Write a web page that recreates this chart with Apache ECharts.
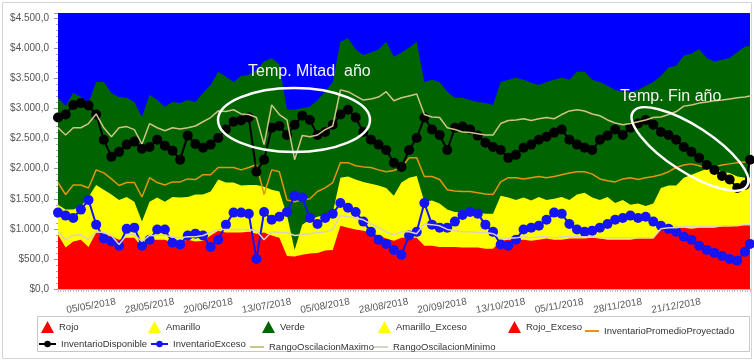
<!DOCTYPE html>
<html><head><meta charset="utf-8">
<script src="https://cdn.jsdelivr.net/npm/echarts@6/dist/echarts.min.js"></script>
<style>html,body{margin:0;padding:0;background:#fff}#c{width:754px;height:361px}</style>
</head><body><div id="c"></div>
<script>
// ---- categories (daily dates) ----
const startDate = Date.UTC(2018, 3, 22);
const dayCount = 273;
const pad = n => (n < 10 ? '0' : '') + n;
const categories = [];
for (let i = 0; i < dayCount; i++) {
  const d = new Date(startDate + i * 86400000);
  categories.push(pad(d.getUTCDate()) + '/' + pad(d.getUTCMonth() + 1) + '/' + d.getUTCFullYear());
}
const tickLabels = ['05/05/2018','28/05/2018','20/06/2018','13/07/2018','05/08/2018','28/08/2018',
  '20/09/2018','13/10/2018','05/11/2018','28/11/2018','21/12/2018'];

// day offsets (from 22/04/2018) at which values were read
const sampleDays = Array.from({length: 91}, (_, i) => i * 3).concat([272]);

// ---- series values ----
const verde = [3180,3040,3260,3190,3090,3440,3440,3260,3190,3180,
 3110,2860,3230,3140,3030,3110,3090,3140,3110,3260,
 3390,3610,3530,3440,3540,3560,3640,3780,3840,3730,
 2980,2980,3010,3030,3140,3280,3440,4110,4170,3980,
 3890,3930,3980,4110,3860,3930,4010,4110,3440,3480,
 3440,3280,3180,3180,3140,3110,3090,3060,3440,3480,
 3510,3480,3430,3390,3440,3480,3510,3480,3610,3610,
 3480,3440,3380,3310,3280,3280,3310,3380,3440,3540,
 3680,3710,3880,3910,3990,3840,3780,3810,3840,3940,
 4030,4040];
const amarillo = [1400,1320,1320,1370,1530,1730,1650,1570,1480,1530,
 1450,1120,1450,1520,1450,1530,1520,1530,1570,1570,
 1620,1820,1770,1770,1720,1730,1730,1700,1650,1620,
 1230,650,1070,1150,1200,1230,1270,1850,1870,1820,
 1780,1750,1720,1680,1550,1770,1850,1880,1450,1470,
 1420,1320,1280,1270,1280,1270,1250,1250,1550,1520,
 1480,1520,1470,1530,1480,1500,1530,1480,1570,1600,
 1520,1480,1530,1430,1480,1400,1420,1380,1420,1680,
 1720,1720,1850,1900,1950,2000,2010,1950,1930,1870,
 1850,1850];
const rojo = [900,690,790,820,700,940,920,870,820,850,
 850,700,820,820,820,770,790,820,790,800,
 890,970,940,940,940,950,920,940,890,850,
 550,540,570,590,600,640,650,1050,1020,990,
 970,940,890,840,800,850,850,850,720,720,
 700,700,700,690,690,690,670,670,800,820,
 820,820,800,820,840,820,820,840,840,840,
 850,840,820,820,820,820,840,840,840,1000,
 1020,1020,1020,1000,1020,1020,1020,1040,1040,1050,
 1070,1070];
const amarilloExceso = [];
const rojoExceso = [];
const promedio = [1770,1570,1730,1730,1680,1980,1930,1830,1720,1770,
 1770,1530,1850,1770,1730,1780,1780,1830,1820,1900,
 1900,2020,2020,2020,1980,2020,2070,1570,1980,1950,
 1480,1450,1480,1500,1620,1680,1770,2100,2100,2050,
 2030,2020,1980,1950,1970,2020,2180,2180,1870,1870,
 1820,1650,1630,1620,1620,1600,1580,1570,1780,1850,
 1850,1830,1850,1870,1850,1870,1900,1930,1950,1950,
 1910,1830,1800,1780,1830,1850,1820,1850,1870,1900,
 1950,2020,2060,2080,2050,2020,2030,2060,2080,2100,
 2110,2110];
const disponible = [2850,2900,3060,3090,3050,2900,2480,2200,2280,2400,
 2450,2330,2360,2480,2380,2300,2150,2550,2410,2350,
 2400,2510,2650,2780,2800,2850,1950,2150,2680,2710,
 2560,2730,2880,2810,2560,2610,2730,2900,2980,2850,
 2610,2480,2400,2310,2100,2030,2310,2510,2850,2650,
 2560,2310,2680,2700,2650,2550,2430,2360,2310,2180,
 2230,2350,2400,2480,2530,2600,2650,2480,2400,2350,
 2310,2480,2550,2650,2560,2680,2750,2810,2730,2610,
 2560,2480,2360,2280,2180,2060,1980,1880,1820,1680,
 1730,2150];
const exceso = [1270,1220,1180,1320,1480,1070,840,790,720,1000,
 1020,720,820,990,990,770,740,890,920,890,
 700,820,1070,1270,1270,1250,500,1280,1150,1200,
 1280,1550,1520,1180,1080,1180,1250,1430,1350,1280,
 1120,950,820,750,650,570,890,950,1430,1070,
 1020,1020,1120,1230,1280,1250,1070,950,740,720,
 820,990,1020,1050,1150,1270,1250,1080,990,950,
 970,1020,1080,1150,1180,1220,1180,1200,1120,1050,
 1000,950,870,820,720,650,600,550,500,470,
 620,750];
const rangoMax = [2680,2560,2680,2680,2750,2910,2680,2530,2680,2700,
 2650,2410,2750,2680,2630,2680,2660,2680,2710,2780,
 2850,2960,2950,2980,2910,2900,2850,2400,3060,2900,
 2810,2150,2550,2530,2560,2650,2710,3310,3280,3210,
 3140,3160,3190,3280,3130,3180,3210,3240,2900,2860,
 2850,2680,2650,2610,2600,2580,2560,2560,2750,2800,
 2810,2830,2800,2830,2850,2830,2900,2960,2980,2960,
 2910,2880,2810,2760,2730,2750,2780,2810,2850,2860,
 2900,2950,3040,3060,3090,3110,3130,3140,3160,3180,
 3190,3210];
const rangoMin = [950,820,890,900,820,950,940,890,740,900,
 900,790,890,890,890,870,850,870,870,890,
 940,990,990,990,990,990,970,820,950,940,
 940,890,900,920,940,950,990,1220,1200,1180,
 1150,1080,1020,950,900,950,950,920,1080,1070,
 1050,990,970,950,950,940,940,920,850,840,
 850,870,850,870,870,850,870,870,870,870,
 870,850,850,850,850,850,850,850,850,1000,
 1020,1020,1040,1040,1040,1040,1040,1050,1050,1050,
 1070,1070];

const pts = arr => arr.map((v, i) => [sampleDays[i], v]);

const FONT = 'Liberation Sans';
function area(name, data, color, z) {
  return { name, type: 'line', data: pts(data), symbol: 'none', color,
    lineStyle: { width: 0 }, areaStyle: { color, opacity: 1 }, z, silent: true };
}
function line(name, data, color, z, width, sym) {
  const s = { name, type: 'line', data: pts(data), color, z, silent: true,
    lineStyle: { width, color }, itemStyle: { color } };
  if (sym) { s.symbol = 'circle'; s.symbolSize = 10; s.showAllSymbol = true; }
  else { s.symbol = 'none'; }
  return s;
}

const series = [
  area('Verde', verde, '#006400', 1),
  area('Amarillo', amarillo, '#FFFF00', 2),
  area('Rojo', rojo, '#FF0000', 3),
  area('Amarillo_Exceso', amarilloExceso, '#FFFF00', 3),
  area('Rojo_Exceso', rojoExceso, '#FF0000', 3),
  line('InventarioPromedioProyectado', promedio, '#E39412', 4, 1.5, false),
  line('InventarioDisponible', disponible, '#000000', 5, 2, true),
  line('InventarioExceso', exceso, '#1414F5', 6, 2, true),
  line('RangoOscilacionMaximo', rangoMax, '#CFC389', 7, 1.5, false),
  line('RangoOscilacionMinimo', rangoMin, '#DCD2C2', 7, 1.5, false)
];

// legend: [name, left, top, iconKind]
const legendItems = [
  ['Rojo', 41, 321, 'tri'], ['Amarillo', 148, 321, 'tri'], ['Verde', 262, 321, 'tri'],
  ['Amarillo_Exceso', 378, 321, 'tri'], ['Rojo_Exceso', 508, 321, 'tri'],
  ['InventarioPromedioProyectado', 585, 326, 'bar'],
  ['InventarioDisponible', 38, 339, 'dot'], ['InventarioExceso', 150, 339, 'dot'],
  ['RangoOscilacionMaximo', 250, 342, 'bar'], ['RangoOscilacionMinimo', 374, 342, 'bar']
];
const legends = legendItems.map(([name, left, top, kind]) => {
  const l = { data: [name], left, top, padding: 0, itemGap: 0, selectedMode: false,
    textStyle: { fontSize: 9.5, color: '#333', fontFamily: FONT } };
  if (kind === 'tri') { l.icon = 'triangle'; l.itemWidth = 13; l.itemHeight = 12; }
  else if (kind === 'bar') { l.icon = 'rect'; l.itemWidth = 14; l.itemHeight = 2; }
  else { l.itemWidth = 17; l.itemHeight = 8; }
  return l;
});

const fmtMoney = v => {
  const th = Math.floor(v / 1000), r = v % 1000;
  return '$' + (th > 0 ? th + '.' + String(r).padStart(3, '0') : String(r)) + ',0';
};

const chart = echarts.init(document.getElementById('c'), null, { renderer: 'canvas' });
chart.setOption({
  animation: false,
  backgroundColor: '#ffffff',
  grid: { left: 58, right: 4, top: 13, bottom: 72, show: true, backgroundColor: '#0000FF',
    borderWidth: 0, outerBoundsMode: 'none' },
  xAxis: {
    type: 'category', data: categories, boundaryGap: false,
    axisLine: { show: true, lineStyle: { color: '#aaa' } },
    axisTick: { show: true, interval: 0, length: 3, lineStyle: { color: '#c0c0c0' } },
    axisLabel: {
      interval: (idx, val) => tickLabels.indexOf(val) >= 0,
      rotate: 10, align: 'center', verticalAlign: 'middle', margin: 17,
      fontSize: 10, color: '#555', fontFamily: FONT, hideOverlap: false
    },
    splitLine: { show: false }
  },
  yAxis: {
    type: 'value', min: 0, max: 4588, interval: 500,
    axisLine: { show: false },
    axisTick: { show: true, length: 4, lineStyle: { color: '#999' } },
    minorTick: { show: true, splitNumber: 5, length: 2, lineStyle: { color: '#aaa' } },
    axisLabel: { formatter: v => (v % 500 === 0 ? fmtMoney(v) : ''), fontSize: 10,
      color: '#555', fontFamily: FONT, margin: 9, showMaxLabel: false },
    splitLine: { show: false }
  },
  legend: legends,
  series,
  graphic: [
    { type: 'rect', shape: { x: 2.5, y: 2.5, width: 749, height: 356 },
      style: { fill: 'none', stroke: '#d4d4d4', lineWidth: 1 }, silent: true, z: -1 },
    { type: 'rect', shape: { x: 37.5, y: 316.5, width: 712, height: 35 },
      style: { fill: 'none', stroke: '#c8c8c8', lineWidth: 1 }, silent: true },
    { type: 'ellipse', shape: { cx: 294, cy: 120, rx: 76, ry: 32 },
      style: { fill: 'none', stroke: '#ffffff', lineWidth: 2.5 }, silent: true, z: 100 },
    { type: 'ellipse', x: 690, y: 149, rotation: -33 * Math.PI / 180,
      shape: { cx: 0, cy: 0, rx: 68, ry: 23 },
      style: { fill: 'none', stroke: '#ffffff', lineWidth: 2.5 }, silent: true, z: 100 },
    { type: 'text', x: 248, y: 72, z: 100, silent: true,
      style: { text: 'Temp. Mitad  año', fill: '#f4f4f4', font: '16px "Liberation Sans"',
        textVerticalAlign: 'middle' } },
    { type: 'text', x: 620, y: 97, z: 100, silent: true,
      style: { text: 'Temp. Fin año', fill: '#f4f4f4', font: '16px "Liberation Sans"',
        textVerticalAlign: 'middle' } }
  ]
});
</script></body></html>
